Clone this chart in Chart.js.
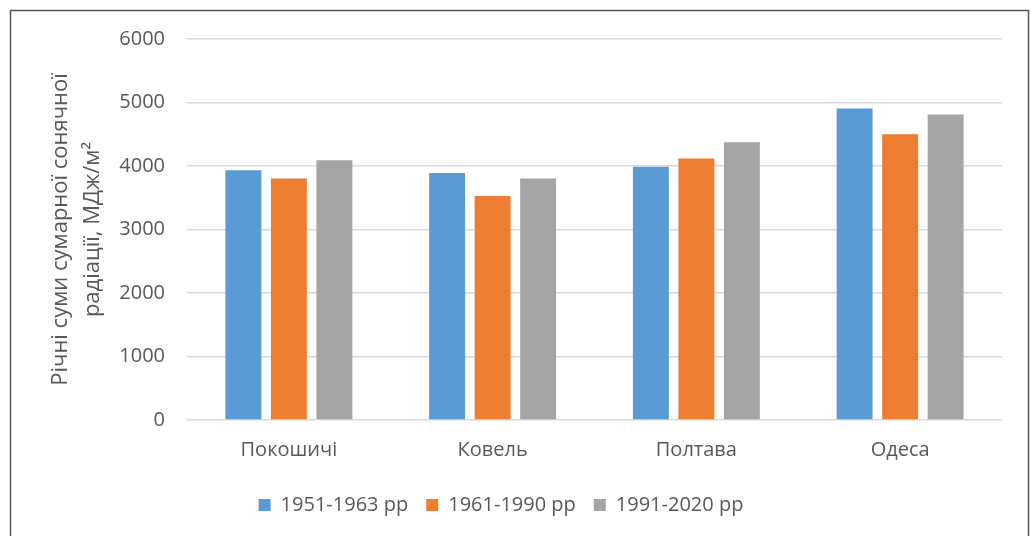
<!DOCTYPE html>
<html>
<head>
<meta charset="utf-8">
<script src="https://cdn.jsdelivr.net/npm/chart.js@4"></script>
<style>
  body { margin: 0; background: #fff; }
  #wrap { width: 1031px; height: 536px; position: relative; }
</style>
</head>
<body>
<div id="wrap"><canvas id="chart"></canvas></div>
<script>
// Categories (stations)
const stations = ['Покошичі', 'Ковель', 'Полтава', 'Одеса'];

// Series values, MJ/m2
const period1 = [3935, 3888, 3987, 4905]; // 1951-1963
const period2 = [3804, 3529, 4120, 4500]; // 1961-1990
const period3 = [4089, 3804, 4373, 4810]; // 1991-2020

const seriesNames = ['1951-1963 рр', '1961-1990 рр', '1991-2020 рр'];
const yTicks = [0, 1000, 2000, 3000, 4000, 5000, 6000];

const textColor = '#595959';
const font = 'Open Sans';

// Frame around the chart
const framePlugin = {
    id: 'frame',
    beforeDraw(chart) {
        const ctx = chart.ctx;
        ctx.save();
        ctx.fillStyle = '#fff';
        ctx.fillRect(0, 0, chart.width, chart.height);
        ctx.strokeStyle = '#555';
        ctx.lineWidth = 1.5;
        ctx.strokeRect(10.5, 10.5, 1018, 600);
        ctx.restore();
    }
};

const bar = (label, data, color) => ({
    label,
    data,
    backgroundColor: color,
    categoryPercentage: 0.67,
    barPercentage: 0.79,
});

new Chart(document.getElementById('chart'), {
    type: 'bar',
    data: {
        labels: stations,
        datasets: [
            bar(seriesNames[0], period1, '#5B9BD5'),
            bar(seriesNames[1], period2, '#ED7D31'),
            bar(seriesNames[2], period3, '#A5A5A5'),
        ],
    },
    options: {
        responsive: true,
        maintainAspectRatio: false,
        animation: false,
        layout: { padding: { top: 39, right: 29, bottom: 11, left: 0 } },
        plugins: {
            tooltip: { enabled: false },
            legend: {
                position: 'bottom',
                labels: {
                    boxWidth: 12,
                    boxHeight: 12,
                    padding: 18,
                    color: textColor,
                    font: { family: font, size: 20 },
                },
            },
        },
        scales: {
            x: {
                grid: { display: false },
                border: { display: false },
                ticks: { color: textColor, font: { family: font, size: 20 }, padding: 10 },
                afterFit: (s) => { s.height = 57; },
            },
            y: {
                min: 0,
                max: 6000,
                afterBuildTicks: (s) => { s.ticks = yTicks.map(v => ({ value: v })); },
                grid: { color: '#D9D9D9', lineWidth: 1.5, drawTicks: false },
                border: { display: false },
                ticks: {
                    color: textColor,
                    font: { family: font, size: 20 },
                    padding: 22,
                    callback: (v) => String(v),
                },
                title: {
                    display: true,
                    text: ['Річні суми сумарної сонячної', 'радіації, МДж/м²'],
                    color: textColor,
                    font: { family: font, size: 22, lineHeight: 1.45 },
                    padding: { top: 45, bottom: 0 },
                },
                afterFit: (s) => { s.width = 187; },
            },
        },
    },
    plugins: [framePlugin],
});
</script>
</body>
</html>
